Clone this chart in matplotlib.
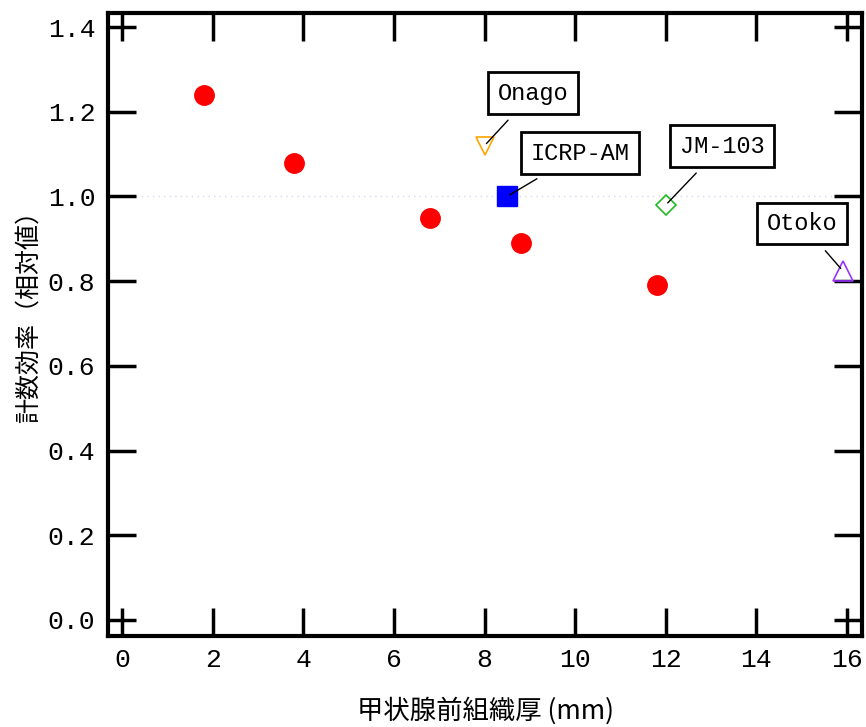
import matplotlib.pyplot as plt

# measured points (red circles)
thickness = [1.8, 3.8, 6.8, 8.8, 11.8]
efficiency = [1.24, 1.08, 0.95, 0.89, 0.79]

# phantom reference points
phantom_names = ["Onago", "ICRP-AM", "JM-103", "Otoko"]
phantom_x = [8.0, 8.5, 12.0, 15.9]
phantom_y = [1.12, 1.0, 0.98, 0.825]

x_ticks = [0, 2, 4, 6, 8, 10, 12, 14, 16]
y_ticks = [0.0, 0.2, 0.4, 0.6, 0.8, 1.0, 1.2, 1.4]

cjk = ["Noto Sans CJK JP", "DejaVu Sans"]
mono = ["Liberation Mono", "DejaVu Sans Mono"]

fig = plt.figure(figsize=(8.66, 7.27), dpi=100)
ax = fig.add_axes([0.1247, 0.1252, 0.8707, 0.8568])

# reference line at 1.0
ax.axhline(1.0, color="#d8d8f0", lw=1, ls=(0, (1, 3)), zorder=0)

ax.plot(thickness, efficiency, "o", color="red", markersize=14, zorder=3)

styles = [
    dict(marker="v", mfc="none", mec="orange", ms=13, mew=1.2),
    dict(marker="s", mfc="blue", mec="blue", ms=14),
    dict(marker="D", mfc="none", mec="#22bb22", ms=10, mew=1.2),
    dict(marker="^", mfc="none", mec="#9933ff", ms=14, mew=1.2),
]
for x, y, st in zip(phantom_x, phantom_y, styles):
    ax.plot([x], [y], ls="none", zorder=3, **st)

# label box positions (data coords)
label_pos = [(9.07, 1.244), (10.1, 1.102), (13.24, 1.119), (15.0, 0.936)]
for name, x, y, pos in zip(phantom_names, phantom_x, phantom_y, label_pos):
    ax.annotate(name, xy=(x, y), xytext=pos, ha="center", va="center",
                family=mono, fontsize=17,
                bbox=dict(boxstyle="square,pad=0.4", fc="white", ec="black", lw=2),
                arrowprops=dict(arrowstyle="-", color="black", lw=1,
                                shrinkA=5, shrinkB=2),
                zorder=4)

ax.set_xlim(-0.31, 16.33)
ax.set_ylim(-0.038, 1.433)
ax.set_xticks(x_ticks)
ax.set_yticks(y_ticks)
ax.set_yticklabels([f"{v:.1f}" for v in y_ticks])

ax.tick_params(direction="in", length=20, width=2.5, top=True, right=True,
               labelsize=19, pad=9)
for lab in ax.get_xticklabels() + ax.get_yticklabels():
    lab.set_family(mono)

for sp in ax.spines.values():
    sp.set_linewidth(3)

ax.set_xlabel("甲状腺前組織厚 (mm)", family=cjk, fontsize=19, labelpad=18)
ax.set_ylabel("計数効率（相対値）", family=cjk, fontsize=18)
ax.yaxis.set_label_coords(-0.088, 0.523)

fig.savefig("out.png", dpi=100)
